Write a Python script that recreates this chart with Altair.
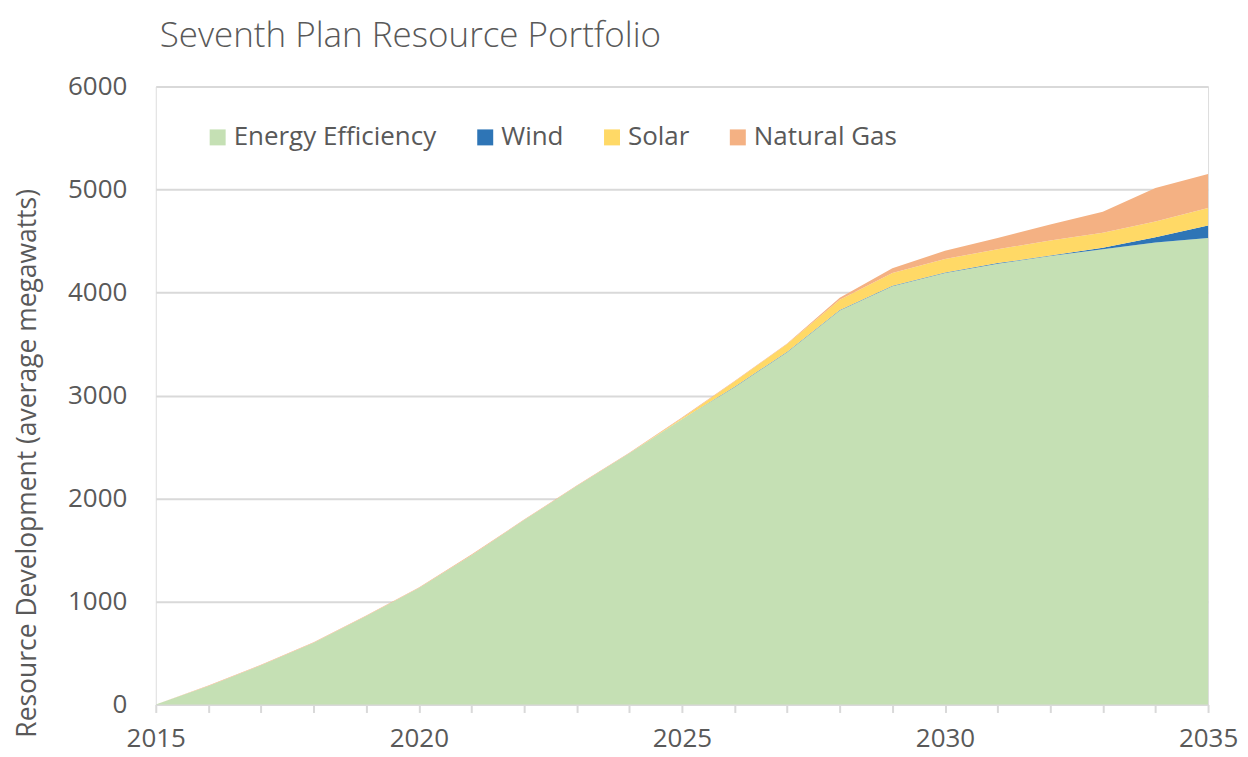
import altair as alt
import pandas as pd

years = list(range(2015, 2036))
energy_efficiency = [0, 180, 380, 600, 860, 1130, 1450, 1790, 2120, 2440, 2770,
                     3080, 3420, 3825, 4060, 4190, 4280, 4355, 4420, 4485, 4530]
wind = [0, 0, 0, 0, 0, 0, 0, 0, 0, 0, 0,
        5, 5, 5, 5, 5, 5, 5, 15, 50, 120]
solar = [0, 0, 0, 0, 0, 0, 0, 0, 0, 0, 10,
         50, 75, 100, 125, 130, 135, 145, 145, 155, 170]
natural_gas = [0, 5, 5, 5, 5, 5, 5, 5, 5, 5, 5,
               5, 5, 20, 45, 80, 110, 155, 205, 325, 330]

series_names = ["Energy Efficiency", "Wind", "Solar", "Natural Gas"]
series_colors = ["#C5E0B4", "#2E75B6", "#FFD966", "#F4B183"]
y_ticks = [0, 1000, 2000, 3000, 4000, 5000, 6000]
x_ticks = years

series_values = [energy_efficiency, wind, solar, natural_gas]
rows = []
for i, name in enumerate(series_names):
    for yr, v in zip(years, series_values[i]):
        rows.append({"year": yr, "series": name, "value": v, "order": i})
df = pd.DataFrame(rows)

FONT = "Open Sans"
TXT = "#595959"
GRID = "#D9D9D9"

chart = alt.Chart(df).mark_area(interpolate="linear", opacity=1).encode(
    x=alt.X(
        "year:Q",
        scale=alt.Scale(domain=[2015, 2035], nice=False, zero=False),
        axis=alt.Axis(
            values=x_ticks, format="d",
            labelExpr="datum.value % 5 == 0 ? datum.label : ''",
            title=None, grid=False,
            domainColor=GRID, domainWidth=2,
            tickColor=GRID, tickWidth=2, tickSize=8,
            labelPadding=13, labelFontSize=26, labelColor=TXT, labelFont=FONT,
            labelOverlap=False, labelFlush=False,
        ),
    ),
    y=alt.Y(
        "value:Q",
        stack="zero",
        scale=alt.Scale(domain=[0, 6000], nice=False),
        axis=alt.Axis(
            values=y_ticks, format="d",
            title="Resource Development (average megawatts)",
            grid=True, gridColor=GRID, gridWidth=2,
            domain=False, ticks=False,
            labelPadding=29, labelFontSize=26, labelColor=TXT, labelFont=FONT,
            titleX=-128, titleY=377, titleAngle=-90,
            titleAlign="center", titleBaseline="middle",
            titleFontSize=26.5, titleFontWeight="normal", titleColor=TXT, titleFont=FONT,
        ),
    ),
    color=alt.Color(
        "series:N",
        scale=alt.Scale(domain=series_names, range=series_colors),
        legend=alt.Legend(
            title=None, orient="none", legendX=49, legendY=38,
            direction="horizontal", symbolType="square", symbolSize=256,
            symbolStrokeWidth=0, labelFontSize=26, labelColor=TXT, labelFont=FONT,
            labelOffset=3, columnPadding=35, labelLimit=400, padding=0,
        ),
    ),
    order=alt.Order("order:Q", sort="ascending"),
).properties(
    width=1054,
    height=619,
    title=alt.TitleParams(
        "Seventh Plan Resource Portfolio",
        anchor="start", frame="group", fontSize=35, font=FONT, fontWeight=300,
        color=TXT, offset=20, dx=4,
    ),
    autosize="none",
    padding={"left": 148, "top": 78, "right": 32, "bottom": 52},
).configure_view(stroke=None).configure(background="white")

chart.save("out.html", embed_options={"renderer": "svg", "actions": False})
